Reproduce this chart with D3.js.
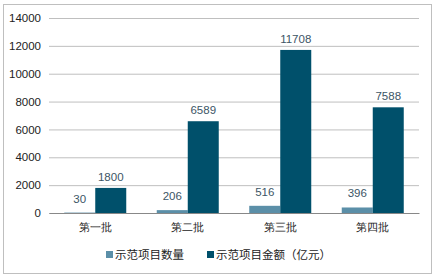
<!DOCTYPE html>
<html>
<head>
<meta charset="utf-8">
<script src="https://cdn.jsdelivr.net/npm/d3@7"></script>
<style>
  body { margin: 0; background: #fff; }
  svg { display: block; font-family: "Liberation Sans", Arial, "Noto Sans CJK SC", sans-serif; }
</style>
</head>
<body>
<svg id="chart" width="436" height="279"></svg>
<script>
// data
const categories = ["第一批", "第二批", "第三批", "第四批"];
const seriesNames = ["示范项目数量", "示范项目金额（亿元）"];
const countValues = [30, 206, 516, 396];
const amountValues = [1800, 6589, 11708, 7588];
const yTicks = [0, 2000, 4000, 6000, 8000, 10000, 12000, 14000];

const colors = ["#5b8fa8", "#00506b"];

const svg = d3.select("#chart");
const margin = {top: 18, right: 17, bottom: 66, left: 49};
const width = 436, height = 279;

// outer frame
svg.append("rect")
  .attr("x", 3.5).attr("y", 4.5)
  .attr("width", 428).attr("height", 269)
  .attr("fill", "#fff")
  .attr("stroke", "#bfbfbf");

const x = d3.scaleBand()
  .domain(categories)
  .range([margin.left, width - margin.right]);

const xInner = d3.scaleBand()
  .domain([0, 1])
  .range([0, 62]);

const y = d3.scaleLinear()
  .domain([0, 14000])
  .range([height - margin.bottom, margin.top]);

// gridlines + y labels
const yAxis = svg.append("g")
  .attr("transform", `translate(${margin.left},0)`)
  .call(d3.axisLeft(y).tickValues(yTicks).tickFormat(d3.format("d"))
    .tickSize(-(width - margin.left - margin.right)).tickPadding(8));
yAxis.select(".domain").remove();
yAxis.selectAll(".tick line").attr("stroke", "#bfbfbf");
yAxis.selectAll(".tick text").attr("fill", "#222").attr("font-size", 11.5);

// bars
const rows = categories.map((c, i) => ({cat: c, vals: [countValues[i], amountValues[i]]}));
const groups = svg.append("g").selectAll("g")
  .data(rows)
  .join("g")
  .attr("transform", d => `translate(${x(d.cat) + (x.bandwidth() - 62) / 2},0)`);

groups.selectAll("rect")
  .data(d => d.vals.map((v, k) => ({v, k})))
  .join("rect")
  .attr("x", d => xInner(d.k))
  .attr("width", xInner.bandwidth())
  .attr("y", d => y(d.v))
  .attr("height", d => y(0) - y(d.v))
  .attr("fill", d => colors[d.k]);

groups.selectAll("text")
  .data(d => d.vals.map((v, k) => ({v, k})))
  .join("text")
  .attr("x", d => xInner(d.k) + xInner.bandwidth() / 2)
  .attr("y", d => y(d.v) - (d.k === 0 ? 10 : 7))
  .attr("text-anchor", "middle")
  .attr("font-size", 11.5)
  .attr("fill", "#3c5566")
  .text(d => d.v);

// x axis
const xAxis = svg.append("g")
  .attr("transform", `translate(0,${y(0)})`)
  .call(d3.axisBottom(x).tickSize(0).tickPadding(10));
xAxis.select(".domain").attr("stroke", "#888");
xAxis.selectAll(".tick text").attr("fill", "#222").attr("font-size", 11);

// legend
const legend = svg.append("g").attr("transform", "translate(106,255)");
const legendX = [0, 101];
seriesNames.forEach((name, k) => {
  const g = legend.append("g").attr("transform", `translate(${legendX[k]},0)`);
  g.append("rect").attr("x", 0).attr("y", -4).attr("width", 7).attr("height", 7).attr("fill", colors[k]);
  g.append("text").attr("x", 9).attr("y", 0).attr("dy", "0.35em")
    .attr("font-size", 11.5).attr("fill", "#222").text(name);
});
</script>
</body>
</html>
